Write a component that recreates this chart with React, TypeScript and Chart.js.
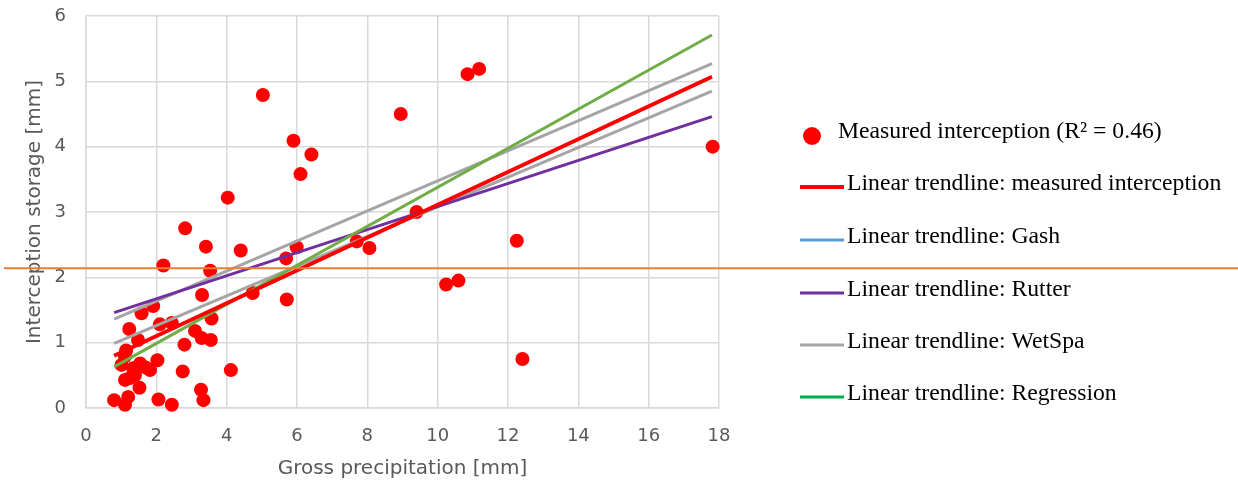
import React, { useEffect, useRef } from "react";
import { Chart, registerables } from "chart.js";

Chart.register(...registerables);

// Measured interception points (x: gross precipitation, y: interception storage)
const measuredX = [
  5.03, 8.95, 10.85, 11.18, 17.82, 12.25, 12.41, 10.24, 10.59, 9.4,
  5.9, 6.41, 6.1, 4.03, 2.82, 3.41, 4.4, 5.99, 5.69, 7.7,
  8.06, 2.2, 3.53, 3.3, 4.74, 5.71, 1.91, 1.58, 3.57, 2.1,
  2.44, 1.23, 3.1, 3.29, 3.55, 1.48, 2.8, 1.14, 2.03, 4.12,
  2.75, 3.27, 3.34, 2.06, 2.44, 0.8, 1.11, 1.2, 1.52, 1.54,
  1.34, 1.82, 1.11, 1.39, 1.01, 1.25, 1.11, 1.7,
];
const measuredY = [
  4.79, 4.5, 5.11, 5.19, 4.0, 2.56, 0.75, 1.89, 1.95, 3.0,
  4.09, 3.88, 3.58, 3.22, 2.75, 2.47, 2.41, 2.46, 2.29, 2.55,
  2.45, 2.18, 2.1, 1.73, 1.76, 1.66, 1.56, 1.45, 1.37, 1.28,
  1.3, 1.21, 1.18, 1.07, 1.04, 1.04, 0.97, 0.88, 0.73, 0.58,
  0.56, 0.28, 0.12, 0.13, 0.05, 0.12, 0.05, 0.17, 0.31, 0.68,
  0.61, 0.58, 0.43, 0.5, 0.66, 0.46, 0.79, 0.62,
];

// Trendline endpoints
const trendX = [0.8, 17.8];
const measuredTrend = [0.8, 5.07];
const gashTrend = [0.99, 4.85];
const rutterTrend = [1.46, 4.46];
const wetspaTrend = [1.36, 5.27];
const regressionTrend = [0.63, 5.71];

// Axis ranges
const xMin = 0, xMax = 18, xStep = 2;
const yMin = 0, yMax = 6, yStep = 1;

// Stray horizontal line value
const orangeLineValue = 2.14;

// Legend
const legendLabels = [
  "Measured interception (R\u00B2 = 0.46)",
  "Linear trendline: measured interception",
  "Linear trendline: Gash",
  "Linear trendline: Rutter",
  "Linear trendline: WetSpa",
  "Linear trendline: Regression",
];
const legendColors = ["#FF0000", "#FF0000", "#5B9BD5", "#7030A0", "#A5A5A5", "#00B050"];

const toPoints = (xs: number[], ys: number[]) => xs.map((x, i) => ({ x, y: ys[i] }));

export default function App() {
  const ref = useRef<HTMLCanvasElement>(null);

  useEffect(() => {
    document.body.style.margin = "0";
    const canvas = ref.current;
    if (!canvas) return;

    const overlay = {
      id: "overlay",
      afterDraw(chart: any) {
        const ctx = chart.ctx;
        const yScale = chart.scales.y;
        const oy = yScale.getPixelForValue(orangeLineValue);
        ctx.save();
        ctx.strokeStyle = "#ED7D31";
        ctx.lineWidth = 2;
        ctx.beginPath();
        ctx.moveTo(4, oy);
        ctx.lineTo(chart.width, oy);
        ctx.stroke();

        const textY = [132, 184, 237, 290, 342, 394];
        ctx.font = "23.7px 'Liberation Serif', 'Times New Roman', serif";
        ctx.textBaseline = "middle";
        ctx.textAlign = "left";
        legendLabels.forEach((lab, i) => {
          const ty = textY[i];
          if (i === 0) {
            ctx.fillStyle = legendColors[0];
            ctx.beginPath();
            ctx.arc(812, ty + 4, 9, 0, Math.PI * 2);
            ctx.fill();
            ctx.fillStyle = "#000";
            ctx.fillText(lab, 838, ty);
          } else {
            ctx.strokeStyle = legendColors[i];
            ctx.lineWidth = i === 1 ? 4 : 3;
            ctx.beginPath();
            ctx.moveTo(800, ty + 3);
            ctx.lineTo(844, ty + 3);
            ctx.stroke();
            ctx.fillStyle = "#000";
            ctx.fillText(lab, 847, ty);
          }
        });
        ctx.restore();
      },
    };

    const lineDs = (label: string, ys: number[], color: string, width: number) => ({
      label,
      data: toPoints(trendX, ys),
      showLine: true,
      borderColor: color,
      backgroundColor: color,
      borderWidth: width,
      pointRadius: 0,
      pointHoverRadius: 0,
    });

    const tickFont = { family: "'DejaVu Sans', sans-serif", size: 18, lineHeight: 1.2 };
    const titleFont = { family: "'DejaVu Sans', sans-serif", size: 20, lineHeight: 1.2 };

    const chart = new Chart(canvas, {
      type: "scatter",
      data: {
        datasets: [
          lineDs("Linear trendline: measured interception", measuredTrend, "#FF0000", 4),
          lineDs("Linear trendline: Regression", regressionTrend, "#70AD47", 3),
          lineDs("Linear trendline: Rutter", rutterTrend, "#7030A0", 3),
          lineDs("Linear trendline: WetSpa", wetspaTrend, "#A5A5A5", 3),
          lineDs("Linear trendline: Gash", gashTrend, "#A5A5A5", 3),
          {
            label: "Measured interception",
            data: toPoints(measuredX, measuredY),
            backgroundColor: "#FF0000",
            borderColor: "#FF0000",
            borderWidth: 0,
            pointRadius: 7,
            clip: false,
          } as any,
        ],
      },
      options: {
        animation: false,
        responsive: true,
        maintainAspectRatio: false,
        layout: { padding: { top: 16, right: 519, left: 0, bottom: 0 } },
        plugins: { legend: { display: false }, tooltip: { enabled: false } },
        scales: {
          x: {
            type: "linear",
            min: xMin,
            max: xMax,
            ticks: { stepSize: xStep, padding: 18, color: "#595959", font: tickFont },
            grid: { color: "#D9D9D9", lineWidth: 1.5, drawTicks: false },
            border: { color: "#D9D9D9", width: 1.5 },
            title: {
              display: true,
              text: "Gross precipitation [mm]",
              color: "#595959",
              font: titleFont,
              padding: { top: 0, bottom: 9 },
            },
            afterFit(scale: any) {
              scale.height = 82;
              scale.paddingLeft = 0;
              scale.paddingRight = 0;
            },
          },
          y: {
            type: "linear",
            min: yMin,
            max: yMax,
            ticks: { stepSize: yStep, padding: 20, color: "#595959", font: tickFont },
            grid: { color: "#D9D9D9", lineWidth: 1.5, drawTicks: false },
            border: { color: "#D9D9D9", width: 1.5 },
            title: {
              display: true,
              text: "Interception storage [mm]",
              color: "#595959",
              font: titleFont,
              padding: { top: 23, bottom: 0 },
            },
            afterFit(scale: any) {
              scale.width = 86;
              scale.paddingTop = 0;
              scale.paddingBottom = 0;
            },
          },
        },
      },
      plugins: [overlay],
    });

    return () => chart.destroy();
  }, []);

  return (
    <div style={{ position: "relative", width: 1238, height: 490 }}>
      <canvas ref={ref} />
    </div>
  );
}
